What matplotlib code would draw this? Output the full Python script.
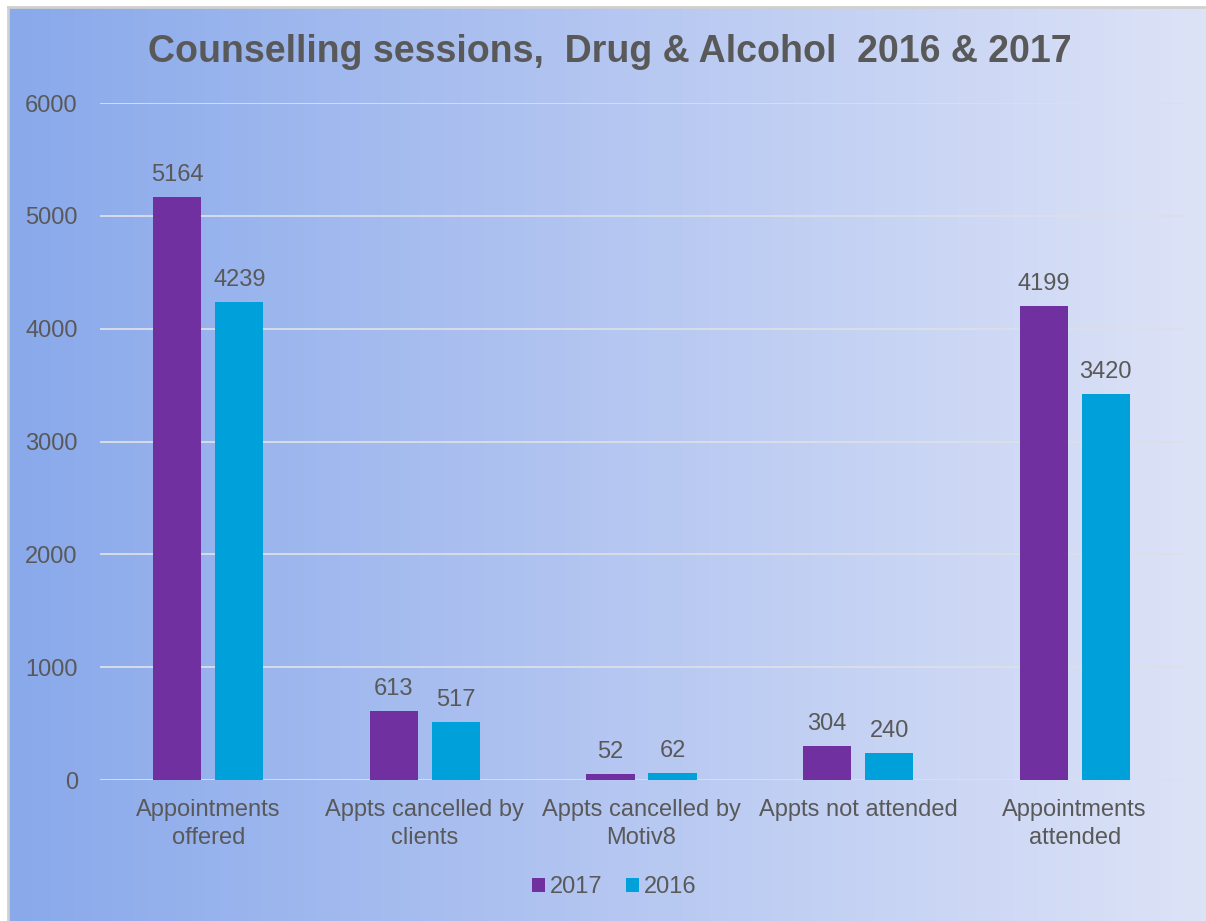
import numpy as np
import matplotlib
matplotlib.use("Agg")
import matplotlib.pyplot as plt
from matplotlib.colors import LinearSegmentedColormap

plt.rcParams['font.family'] = ['Liberation Sans', 'DejaVu Sans']

categories = ["Appointments\noffered", "Appts cancelled by\nclients", "Appts cancelled by\nMotiv8",
              "Appts not attended", "Appointments\nattended"]
vals_2017 = [5164, 613, 52, 304, 4199]
vals_2016 = [4239, 517, 62, 240, 3420]
series_names = ["2017", "2016"]
yticks = [0, 1000, 2000, 3000, 4000, 5000, 6000]

text_col = "#595959"
c2017 = "#7030A0"
c2016 = "#00A0DA"

W, H = 1206, 921
fig = plt.figure(figsize=(W / 100, H / 100), dpi=100)

# gradient background (left blue -> right pale lavender)
bg = fig.add_axes([8 / W, 0, 1 - 8 / W, 1 - 8 / H], zorder=-1)
grad = LinearSegmentedColormap.from_list("bg", ["#89A9EB", "#B4C6F1", "#DDE3F7"])
bg.imshow(np.linspace(0, 1, 256).reshape(1, -1), aspect="auto", cmap=grad, extent=[0, 1, 0, 1])
bg.set_xlim(0, 1)
bg.set_ylim(0, 1)
bg.axis("off")
fig.add_artist(plt.Line2D([7.5 / W, 7.5 / W], [0, 1 - 7.5 / H], color="#D0D0D0", lw=2))
fig.add_artist(plt.Line2D([7.5 / W, 1], [1 - 7.5 / H, 1 - 7.5 / H], color="#D0D0D0", lw=2))

ax = fig.add_axes([100 / W, (H - 780) / H, (1183 - 100) / W, (780 - 103) / H])
ax.patch.set_alpha(0)

x = np.arange(len(categories))
bw = 0.222
off = 0.143
b1 = ax.bar(x - off, vals_2017, bw, color=c2017, label=series_names[0], zorder=3)
b2 = ax.bar(x + off, vals_2016, bw, color=c2016, label=series_names[1], zorder=3)
for bars in (b1, b2):
    for r in bars:
        ax.annotate(f"{int(r.get_height())}", (r.get_x() + r.get_width() / 2, r.get_height()),
                    xytext=(0, 8), textcoords="offset points", ha="center", va="bottom",
                    fontsize=17, color=text_col)

ax.set_xlim(-0.5, len(categories) - 0.5)
ax.set_ylim(0, 6000)
ax.set_yticks(yticks)
ax.set_xticks(x)
ax.set_xticklabels(categories, fontsize=17, color=text_col, linespacing=1.32)
ax.tick_params(axis="y", labelsize=17, labelcolor=text_col, length=0, pad=16)
ax.tick_params(axis="x", length=0, pad=14)
ax.grid(axis="y", color="#DCDFE8", lw=1.3, zorder=0)
for s in ax.spines.values():
    s.set_visible(False)

fig.text(610 / W, 1 - 52 / H, "Counselling sessions,  Drug & Alcohol  2016 & 2017",
         ha="center", va="center", fontsize=27, fontweight="bold", color=text_col)

fig.legend(loc="center", bbox_to_anchor=(614 / W, 1 - 887 / H), ncol=2, frameon=False,
           fontsize=17, labelcolor=text_col, handlelength=0.55, handleheight=0.55,
           handletextpad=0.2, columnspacing=1.0)

fig.savefig("out.png", dpi=100)
